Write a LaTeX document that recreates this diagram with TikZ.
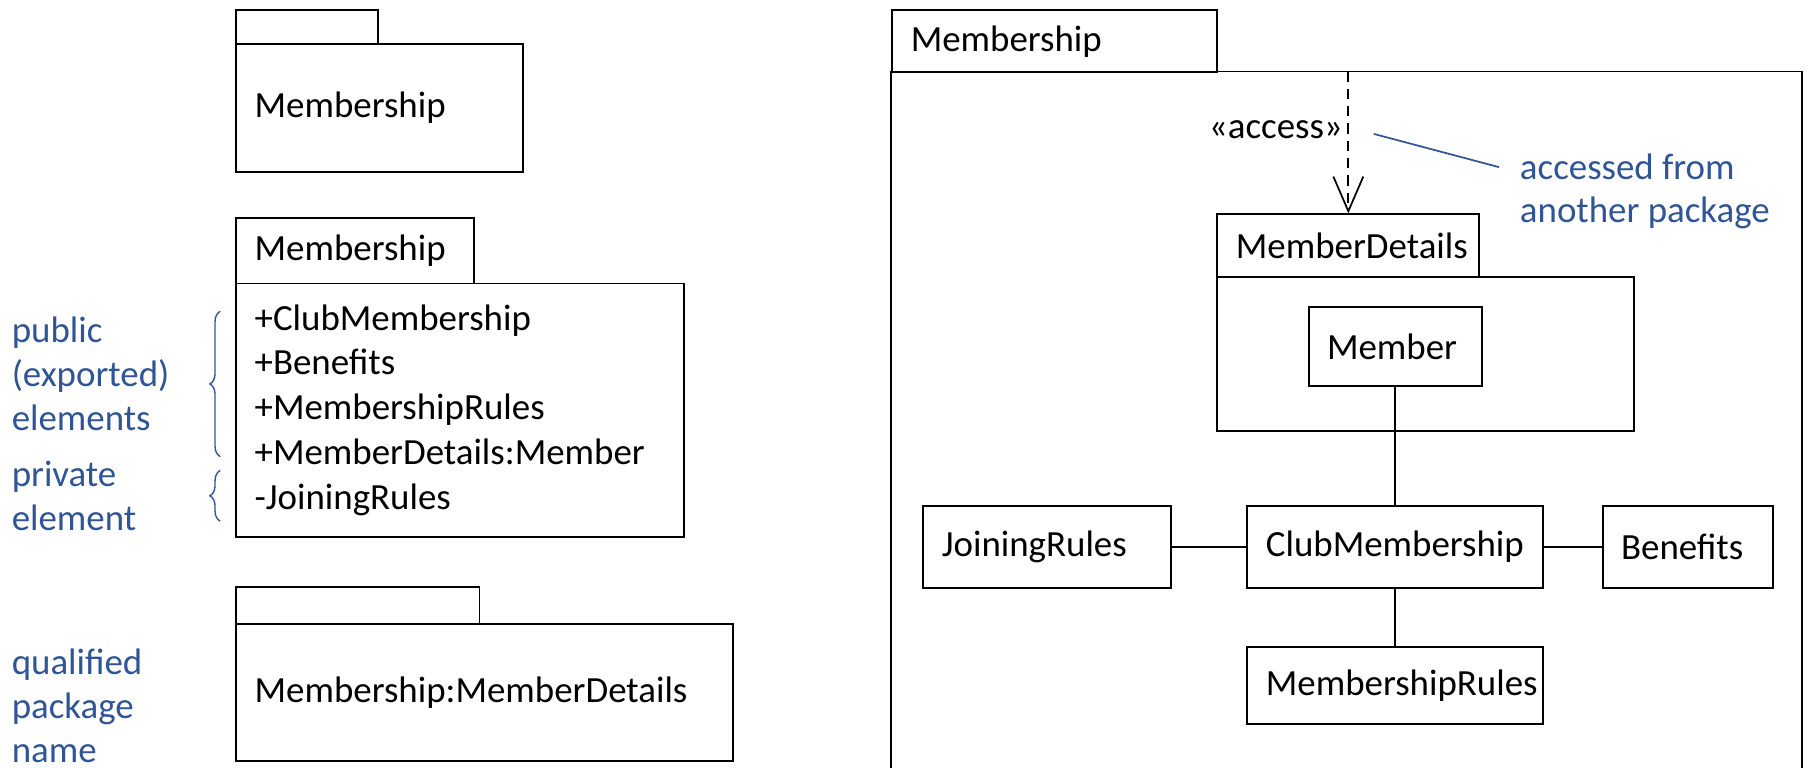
\documentclass[tikz,border=0pt]{standalone}
\usepackage{fontspec}
\setmainfont{Carlito}
\usetikzlibrary{arrows.meta, decorations.pathreplacing}
\definecolor{notecol}{RGB}{47,85,151}

\begin{document}
\begin{tikzpicture}[x = 1pt, y = -1pt]
\tikzstyle{umlbox} = [draw, line width = 1.7pt, rectangle, anchor = north west, inner xsep = 16pt, inner ysep = 0pt, align = left, font = \fontsize{32}{39}\selectfont]
\tikzstyle{note} = [notecol, inner sep = 0pt, anchor = west, align = left, font = \fontsize{32}{38}\selectfont]
\tikzset{link/.style = {line width = 1.5pt}, dep/.style = {line width = 1.5pt, dash pattern = on 9pt off 6pt, -{Straight Barb[length = 30pt, width = 26pt]}}, bracket/.style = {notecol, line width = 1.2pt, decorate, decoration = {brace, amplitude = 9pt}}}
\useasboundingbox (0,0) rectangle (1568,666);

\node [umlbox, minimum width = 123pt, minimum height = 29pt] (pkgAtab) at (204,8) {};
\node [umlbox, text width = 217pt, minimum height = 111pt] (pkgAbody) at (204,37) {Membership};
\node [umlbox, text width = 174pt, minimum height = 57pt] (pkgBtab) at (204,188) {Membership};
\node [umlbox, text width = 356pt, minimum height = 220pt] (pkgBbody) at (204,245) {+ClubMembership\\+Benefits\\+MembershipRules\\+MemberDetails:Member\\-JoiningRules};
\node [umlbox, minimum width = 211pt, minimum height = 32pt] (pkgCtab) at (204,508) {};
\node [umlbox, text width = 399pt, minimum height = 119pt] (pkgCbody) at (204,540) {Membership:MemberDetails};

\node [note] (public) at (10,324) {public\\(exported)\\elements};
\node [note] (private) at (10,430) {private\\element};
\node [note] (qualified) at (10,612) {qualified\\package\\name};
\draw [bracket] (191,396) -- (191,270);
\draw [bracket] (191,452) -- (191,408);

\node [umlbox, text width = 250pt, minimum height = 54pt] (outtab) at (773,8) {Membership};
\draw [line width = 1.7pt] (773,666) -- (773,62) -- (1563,62) -- (1563,666);
\node [umlbox, text width = 195pt, minimum height = 54pt] (mdtab) at (1055,185) {MemberDetails};
\node [umlbox, minimum width = 361pt, minimum height = 134pt] (mdbody) at (1055,239) {};
\node [umlbox, text width = 118pt, minimum height = 69pt] (member) at (1134,265) {Member};
\node [umlbox, text width = 183pt, minimum height = 71pt] (joining) at (800,438) {JoiningRules};
\node [umlbox, text width = 224pt, minimum height = 71pt] (club) at (1081,438) {ClubMembership};
\node [umlbox, text width = 116pt, minimum height = 71pt] (benefits) at (1389,438) {Benefits};
\node [umlbox, text width = 224pt, minimum height = 67pt] (rules) at (1081,560) {MembershipRules};

\coordinate (src) at (mdtab.north |- 0,62);
\draw [dep] (src) -- coordinate [pos = .44] (ptr) node [pos = .41, left, inner sep = 4pt, font = \fontsize{32}{39}\selectfont] (acclbl) {«access»} (mdtab.north);
\node [note] (accnote) at (1318,166) {accessed from\\another package};
\draw [notecol, line width = 1.5pt] ([xshift = 22pt]ptr) -- ([xshift = -18pt, yshift = -12pt]accnote.north west);

\draw [link] (member.south) -- (club.north);
\draw [link] (joining.east) -- (club.west);
\draw [link] (club.east) -- (benefits.west);
\draw [link] (club.south) -- (rules.north);
\end{tikzpicture}
\end{document}
